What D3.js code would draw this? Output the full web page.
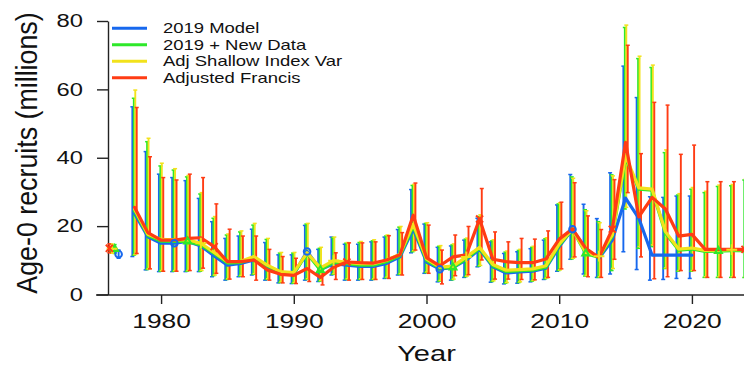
<!DOCTYPE html>
<html>
<head>
<meta charset="utf-8">
<script src="https://cdn.jsdelivr.net/npm/d3@7"></script>
<style>
  body { margin: 0; background: #fff; }
  svg { display: block; }
  text { font-family: "Liberation Sans", Arial, sans-serif; fill: #111; }
</style>
</head>
<body>
<svg id="chart" width="744" height="366"></svg>
<script>
// ---- data ----
const seriesNames = ["2019 Model", "2019 + New Data", "Adj Shallow Index Var", "Adjusted Francis"];
const seriesColors = ["#1768ee", "#2ee82a", "#f2e21c", "#ff3c14"];

const years = [1978,1979,1980,1981,1982,1983,1984,1985,1986,1987,
               1988,1989,1990,1991,1992,1993,1994,1995,1996,1997,
               1998,1999,2000,2001,2002,2003,2004,2005,2006,2007,
               2008,2009,2010,2011,2012,2013,2014,2015,2016,2017,
               2018,2019,2020,2021,2022,2023,2024];

// recruitment estimates (millions), one array per model
const blueVal = [23.7,16.9,15.0,15.0,15.5,14.2,11.3,8.6,9.1,10.1,
                 8.1,6.3,5.9,12.6,7.3,9.0,8.6,8.2,8.2,9.1,
                 11.0,19.2,9.5,7.4,7.9,10.1,13.2,8.1,6.3,6.6,
                 6.8,7.7,14.0,19.1,13.3,10.6,15.9,28.2,22.3,11.5,
                 11.5,11.5,11.5];
const greenVal = [24.5,17.3,15.6,15.5,15.5,14.5,12.0,9.2,9.4,10.7,
                  8.4,6.5,6.1,12.0,7.2,9.4,9.0,8.6,8.6,9.6,
                  11.4,20.0,10.0,7.7,7.9,10.5,13.5,8.4,6.7,7.0,
                  7.1,8.0,14.4,19.0,12.0,10.8,17.0,40.0,30.8,30.5,
                  18.0,13.0,13.3,12.6,12.7,12.8,12.8];
const yellowVal = [25.0,17.6,16.1,16.0,16.0,15.0,12.3,9.6,9.7,11.1,
                   8.6,6.7,6.4,12.2,7.8,9.9,9.4,9.0,9.0,10.0,
                   11.8,20.6,10.4,8.0,8.3,11.0,13.8,8.8,7.1,7.3,
                   7.5,8.4,14.8,19.1,12.3,11.2,17.4,40.5,31.2,30.8,
                   18.4,13.3,13.6,12.9,13.0,13.1,13.1];
const redVal = [25.5,18.1,15.9,15.9,16.4,16.6,14.0,9.6,9.6,10.1,
                7.2,5.9,5.6,7.6,5.0,8.0,9.5,9.3,9.2,10.1,
                11.6,23.2,10.8,8.4,11.0,11.6,22.1,10.3,9.6,9.3,
                9.3,10.4,16.2,19.2,13.5,10.8,19.1,44.5,22.7,28.4,
                25.0,17.1,17.6,13.2,13.2,13.2,13.2];

// upper interval bounds
const blueHi = [54.9,41.8,35.2,34.2,33.3,28.1,21.3,16.4,17.1,19.1,
                15.2,11.6,11.6,20.2,13.2,16.8,14.7,14.7,15.4,16.8,
                19.0,30.7,20.6,13.8,14.2,15.9,22.3,15.4,12.0,12.5,
                13.4,15.9,26.2,35.1,26.4,22.2,35.6,66.8,57.6,28.6,
                28.4,28.8,28.8];
const greenHi = [57.4,44.7,37.6,36.4,34.4,29.4,22.3,17.4,18.3,20.3,
                 16.1,12.1,12.1,20.6,13.5,16.6,15.0,15.2,15.7,17.1,
                 19.7,31.9,20.8,14.1,14.5,16.2,22.8,15.7,12.4,12.9,
                 13.8,16.3,26.5,34.4,24.8,21.3,35.0,78.1,69.0,66.4,
                 41.5,29.1,30.8,29.8,31.6,31.8,33.5];
const yellowHi = [59.8,45.7,38.4,36.8,34.8,29.8,22.8,17.7,18.6,20.8,
                  16.4,12.3,12.3,20.8,13.8,16.8,15.2,15.5,16.0,17.4,
                  19.9,32.2,21.0,14.3,14.8,16.5,23.3,16.0,12.7,13.2,
                  14.1,16.6,26.8,34.0,24.5,21.0,34.7,78.8,69.7,67.1,
                  42.3,29.5,31.3,30.2,32.0,32.2,33.8];
const redHi = [54.7,40.3,34.2,33.5,35.2,34.2,26.5,19.1,17.1,17.1,
               13.2,11.1,10.6,11.5,8.3,12.2,15.1,15.1,15.4,17.2,
               18.1,32.6,20.3,13.0,17.4,19.9,31.0,18.3,15.4,16.4,
               16.2,18.6,27.0,32.7,23.0,19.0,33.6,72.9,41.2,56.2,
               55.4,41.0,43.7,33.0,33.0,33.0,33.0];

// lower interval bounds
const blueLo = [11.1,7.2,6.7,6.7,6.7,6.7,5.2,4.2,5.2,5.7,
                4.2,3.4,3.2,4.2,3.8,5.7,4.2,4.2,4.2,4.7,
                5.7,12.2,6.2,3.7,4.2,5.0,8.1,3.6,3.1,3.3,
                3.7,4.4,6.8,10.3,6.0,5.0,6.0,12.5,7.3,4.2,
                4.4,4.7,4.7];
const greenLo = [11.5,7.3,6.8,6.8,6.8,6.8,5.5,4.4,5.4,5.9,
                 4.4,3.5,3.3,4.4,3.9,5.9,4.4,4.4,4.4,4.9,
                 5.9,12.5,6.4,3.9,4.3,5.2,8.3,3.8,3.3,3.5,
                 3.9,4.6,7.0,10.4,5.4,5.0,7.0,25.0,13.5,14.0,
                 7.6,6.8,6.8,5.0,5.0,5.0,5.0];
const yellowLo = [11.7,7.5,7.0,7.0,7.0,7.0,5.7,4.6,5.6,6.1,
                  4.6,3.7,3.5,4.6,4.1,6.1,4.6,4.6,4.6,5.1,
                  6.1,12.8,6.6,4.1,4.5,5.4,8.5,4.0,3.5,3.7,
                  4.1,4.8,7.2,10.6,5.6,5.2,7.6,25.5,14.0,14.5,
                  7.8,7.0,7.0,5.2,5.2,5.2,5.2];
const redLo = [12.0,7.5,6.8,6.8,7.0,7.7,6.2,4.5,5.2,4.2,
               4.2,3.4,3.2,3.8,2.8,4.4,4.2,4.4,4.4,4.7,
               5.7,13.0,6.2,3.1,5.5,5.8,10.1,4.5,4.5,4.4,
               4.3,5.0,7.5,11.0,5.2,5.0,10.3,29.8,11.0,4.6,
               5.2,7.0,7.0,5.0,5.0,5.0,5.0];

// virgin (unfished) recruitment, shown left of the time series
const virginYear = [1976.8, 1976.5, 1976.3, 1976.1];
const virginVal  = [11.8, 13.3, 13.4, 13.5];
const virginHi   = [13.0, 14.6, 14.7, 14.8];
const virginLo   = [10.6, 12.0, 12.1, 12.2];

// years carrying a point symbol, staggered per model
const markerYears = [
  [1981, 1991, 2001, 2011],
  [1982, 1992, 2002, 2012, 2022],
  [1983, 1993, 2003, 2013, 2023],
  [1984, 1994, 2004, 2014, 2024]
];

const yTicks = [0, 20, 40, 60, 80];
const xTicks = [1980, 1990, 2000, 2010, 2020];
const xAxisStart = 1975.1;

// ---- layout ----
const W = 744, H = 366;
const TEXT_STRETCH = 1.32;
const svg = d3.select("#chart");

const x = d3.scaleLinear().domain([1976, 2024]).range([108, 745]);
const y = d3.scaleLinear().domain([0, 80]).range([294.5, 21]);

const vals = [blueVal, greenVal, yellowVal, redVal];
const his = [blueHi, greenHi, yellowHi, redHi];
const los = [blueLo, greenLo, yellowLo, redLo];

const series = seriesNames.map((name, i) => ({
  name, color: seriesColors[i], idx: i,
  points: vals[i].map((v, j) => ({ year: years[j], value: v, hi: his[i][j], lo: los[i][j] }))
}));

// ---- axes ----
const axisColor = "#222";

const gy = svg.append("g").attr("transform", `translate(${x(1976)},0)`)
  .call(d3.axisLeft(y).tickValues(yTicks).tickSize(11).tickSizeOuter(0).tickPadding(14));
gy.select(".domain").attr("stroke", axisColor).attr("stroke-width", 1.4);
gy.selectAll(".tick line").attr("stroke", axisColor).attr("stroke-width", 1.4);
gy.selectAll(".tick text")
  .attr("x", -25 / TEXT_STRETCH)
  .attr("transform", `scale(${TEXT_STRETCH},1)`)
  .style("font-size", "18px").attr("fill", "#111");

const gx = svg.append("g").attr("transform", `translate(0,${y(0) + 0.5})`)
  .call(d3.axisBottom(x).tickValues(xTicks).tickFormat(d3.format("d")).tickSize(9).tickPadding(10));
gx.select(".domain").remove();
gx.append("line")
  .attr("x1", x(xAxisStart)).attr("x2", W)
  .attr("stroke", axisColor).attr("stroke-width", 1.4);
gx.selectAll(".tick line").attr("stroke", axisColor).attr("stroke-width", 1.4);
gx.selectAll(".tick text")
  .attr("transform", `scale(${TEXT_STRETCH},1)`)
  .style("font-size", "20px").attr("fill", "#111");
svg.selectAll(".tick text").attr("font-family", null);

// axis titles
svg.append("text")
  .attr("transform", `translate(${(x(1976) + x(2024)) / 2},361) scale(${TEXT_STRETCH},1)`)
  .attr("text-anchor", "middle")
  .style("font-size", "22px")
  .text("Year");

svg.append("text")
  .attr("transform", `translate(37,153) rotate(-90) scale(1,1.13)`)
  .attr("text-anchor", "middle")
  .style("font-size", "26.8px")
  .text("Age-0 recruits (millions)");

// ---- error bars ----
const plot = svg.append("g");
const barStep = 0.11;   // horizontal stagger between models, in years
const capHalf = 2;

series.forEach(s => {
  const g = plot.append("g").attr("stroke", s.color).attr("fill", "none");
  const off = (s.idx - 1.5) * barStep;
  const bars = s.points.concat([{ year: virginYear[s.idx] - off, hi: virginHi[s.idx], lo: virginLo[s.idx] }]);
  bars.forEach(p => {
    const bx = x(p.year + off);
    g.append("line").attr("x1", bx).attr("x2", bx)
      .attr("y1", y(p.hi)).attr("y2", y(p.lo)).attr("stroke-width", 1.9);
    [p.hi, p.lo].forEach(v => {
      g.append("line").attr("x1", bx - capHalf).attr("x2", bx + capHalf)
        .attr("y1", y(v)).attr("y2", y(v)).attr("stroke-width", 1.5);
    });
  });
});

// ---- lines ----
const line = d3.line().x(d => x(d.year)).y(d => y(d.value));
series.forEach(s => {
  plot.append("path")
    .datum(s.points)
    .attr("d", line)
    .attr("fill", "none")
    .attr("stroke", s.color)
    .attr("stroke-width", 3.2)
    .attr("stroke-linejoin", "round")
    .attr("stroke-linecap", "round");
});

// ---- point symbols ----
const symbolTypes = [
  d3.symbolCircle,
  d3.symbolTriangle2 || d3.symbolTriangle,
  d3.symbolPlus || d3.symbolCross,
  d3.symbolTimes || d3.symbolCross
];
const symbolSizes = [34, 34, 40, 34];

series.forEach(s => {
  const sym = d3.symbol().type(symbolTypes[s.idx]).size(symbolSizes[s.idx]);
  const pts = s.points.filter(p => markerYears[s.idx].includes(p.year))
    .map(p => ({ year: p.year, value: p.value }));
  pts.push({ year: virginYear[s.idx], value: virginVal[s.idx] });
  plot.append("g").selectAll("path")
    .data(pts).join("path")
    .attr("transform", d => `translate(${x(d.year)},${y(d.value)})`)
    .attr("d", sym)
    .attr("fill", "none")
    .attr("stroke", s.color)
    .attr("stroke-width", 2);
});

// ---- legend ----
const legend = svg.append("g");
const legendRow = d3.scalePoint().domain(d3.range(seriesNames.length)).range([28.3, 77.7]);
series.forEach(s => {
  const ly = legendRow(s.idx);
  legend.append("line")
    .attr("x1", 112).attr("x2", 147).attr("y1", ly).attr("y2", ly)
    .attr("stroke", s.color).attr("stroke-width", 3);
  legend.append("text")
    .attr("transform", `translate(163,${ly + 5}) scale(${TEXT_STRETCH},1)`)
    .style("font-size", "14px")
    .text(s.name);
});
</script>
</body>
</html>
